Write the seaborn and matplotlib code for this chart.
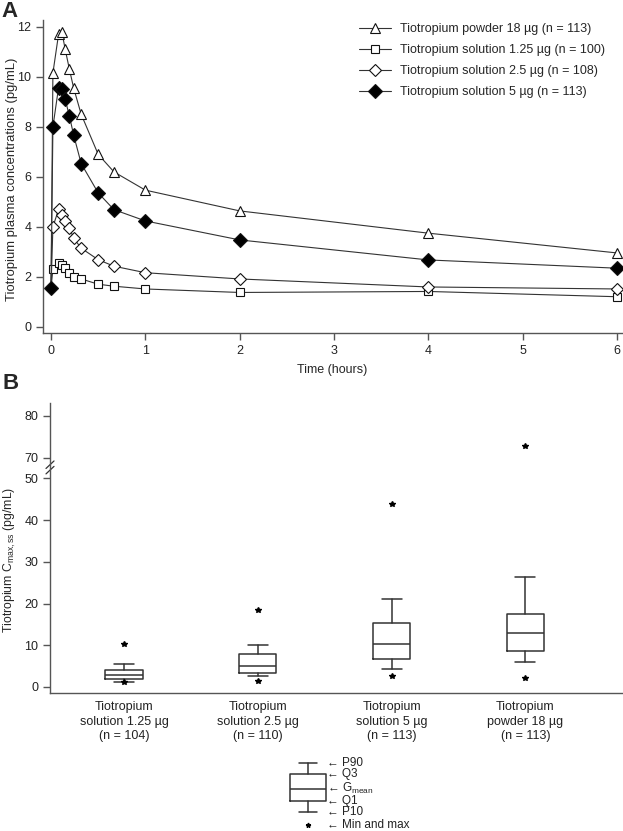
import numpy as np
import pandas as pd
import matplotlib
matplotlib.use('Agg')
import matplotlib.pyplot as plt
import matplotlib.transforms as mtransforms
import seaborn as sns

# Panel A: mean plasma concentration over time (hours)
time_h = [0, 0.02, 0.08, 0.115, 0.15, 0.195, 0.24, 0.32, 0.5, 0.667, 1, 2, 4, 6]
powder_18 = [1.55, 10.15, 11.7, 11.8, 11.1, 10.3, 9.55, 8.5, 6.9, 6.2, 5.47, 4.64, 3.75, 2.96]
sol_125 = [1.55, 2.32, 2.55, 2.48, 2.34, 2.14, 2.0, 1.92, 1.71, 1.63, 1.52, 1.38, 1.42, 1.21]
sol_25 = [1.55, 4.0, 4.7, 4.49, 4.23, 3.97, 3.55, 3.15, 2.69, 2.43, 2.17, 1.92, 1.6, 1.52]
sol_5 = [1.55, 8.0, 9.57, 9.5, 9.1, 8.43, 7.67, 6.53, 5.36, 4.69, 4.24, 3.48, 2.68, 2.35]

series_labels = ['Tiotropium powder 18 µg (n = 113)',
                 'Tiotropium solution 1.25 µg (n = 100)',
                 'Tiotropium solution 2.5 µg (n = 108)',
                 'Tiotropium solution 5 µg (n = 113)']

# Panel B: Cmax,ss summary per group
box_groups = ['Tiotropium\nsolution 1.25 µg\n(n = 104)',
              'Tiotropium\nsolution 2.5 µg\n(n = 110)',
              'Tiotropium\nsolution 5 µg\n(n = 113)',
              'Tiotropium\npowder 18 µg\n(n = 113)']
p10 = [1.3, 2.6, 4.3, 5.9]
q1 = [1.8, 3.4, 6.6, 8.7]
gmean = [2.8, 5.0, 10.4, 13.0]
q3 = [4.1, 7.8, 15.4, 17.5]
p90 = [5.5, 10.0, 21.1, 26.3]
c_min = [1.2, 1.5, 2.6, 2.2]
c_max = [10.3, 18.4, 43.8, 72.9]

y_ticks_b = [0, 10, 20, 30, 40, 50, 70, 80]

# key box (nominal values only used for the explanatory glyph)
key_stats = {'whislo': 19.3, 'q1': 30, 'med': 42.3, 'q3': 57, 'whishi': 68.3, 'star': 6}
key_labels = ['P90', 'Q3', 'G$_{mean}$', 'Q1', 'P10', 'Min and max']


def brk(v):
    # compress the 50-70 gap on the y axis of panel B
    v = np.asarray(v, dtype=float)
    return np.where(v > 50, v - 15, v)


sns.set_theme(style='ticks')
plt.rcParams['font.family'] = ['Liberation Sans', 'DejaVu Sans']
plt.rcParams['mathtext.default'] = 'regular'

W, H = 623, 831
fig = plt.figure(figsize=(W / 100, H / 100), dpi=100)
ink = '#333333'

# ---------- panel A ----------
axA = fig.add_axes([43 / W, 1 - 333 / H, 579 / W, 313 / H])
df = pd.DataFrame({
    'time': time_h * 4,
    'conc': powder_18 + sol_125 + sol_25 + sol_5,
    'group': np.repeat(series_labels, len(time_h)),
})
styles = [('^', 'white', 7.5, list(range(1, len(time_h)))),
          ('s', 'white', 6.3, list(range(1, len(time_h)))),
          ('D', 'white', 6.3, list(range(1, len(time_h)))),
          ('D', 'black', 6.8, list(range(len(time_h))))]
for label, (mk, fc, ms, every) in zip(series_labels, styles):
    sub = df[df['group'] == label]
    sns.lineplot(data=sub, x='time', y='conc', ax=axA, color=ink, lw=0.8,
                 marker=mk, ms=ms, mfc=fc, mec='#111111', mew=0.8,
                 markevery=every, label=label)

axA.set_xlim(-0.085, 6.053)
axA.set_ylim(-0.24, 12.27)
axA.set_xticks(range(0, 7))
axA.set_yticks(range(0, 13, 2))
axA.set_xlabel('Time (hours)', fontsize=9, labelpad=5)
axA.set_ylabel('Tiotropium plasma concentrations (pg/mL)', fontsize=9.4)
axA.yaxis.set_label_coords(-0.043, 0.49)
axA.legend(loc='upper left', bbox_to_anchor=(0.545, 0.99), frameon=False,
           fontsize=9, handlelength=2.6, handletextpad=0.7, labelspacing=0.72,
           borderpad=0, borderaxespad=0)
sns.despine(ax=axA)

# ---------- panel B ----------
axB = fig.add_axes([50 / W, 1 - 693 / H, 573 / W, 290 / H])
stats = []
for i, g in enumerate(box_groups):
    stats.append(dict(whislo=float(brk(p10[i])), q1=float(brk(q1[i])),
                      med=float(brk(gmean[i])), q3=float(brk(q3[i])),
                      whishi=float(brk(p90[i])),
                      fliers=brk([c_min[i], c_max[i]]), label=g))
line_kw = dict(color=ink, lw=1.1)
axB.bxp(stats, positions=range(len(stats)), widths=0.28, capwidths=0.15,
        boxprops=line_kw, whiskerprops=line_kw, capprops=line_kw,
        medianprops=line_kw,
        flierprops=dict(marker='*', ms=4, mfc='black', mec='black', ls='none'))
axB.set_xlim(-0.553, 3.73)
axB.set_ylim(-1.44, 68.1)
axB.set_yticks(brk(y_ticks_b))
axB.set_yticklabels([str(t) for t in y_ticks_b])
axB.set_xticks(range(len(box_groups)))
axB.set_xticklabels(box_groups, fontsize=9, linespacing=1.25)
axB.set_ylabel('Tiotropium C$_{max,ss}$ (pg/mL)', fontsize=8.8)
axB.yaxis.set_label_coords(-0.055, 0.46)
sns.despine(ax=axB)

# axis break marks
trans = mtransforms.blended_transform_factory(axB.transAxes, axB.transData)
for yb in (52.0, 53.3):
    axB.plot([-0.007, 0.007], [yb - 0.9, yb + 0.9], color=ink, lw=0.9,
             transform=trans, clip_on=False)

for ax in (axA, axB):
    for s in ('left', 'bottom'):
        ax.spines[s].set_color('#555555')
        ax.spines[s].set_linewidth(1.0)
    ax.tick_params(colors='#555555', labelcolor='#222222', labelsize=9,
                   width=1.0, length=5)
axB.tick_params(axis='x', length=0, pad=6)

# ---------- key ----------
axK = fig.add_axes([270 / W, 0, 170 / W, 76 / H])
axK.set_xlim(0, 170)
axK.set_ylim(0, 76)
axK.axis('off')
axK.bxp([dict(whislo=key_stats['whislo'], q1=key_stats['q1'], med=key_stats['med'],
              q3=key_stats['q3'], whishi=key_stats['whishi'],
              fliers=[key_stats['star']])],
        positions=[38], widths=36, capwidths=18,
        boxprops=line_kw, whiskerprops=line_kw, capprops=line_kw, medianprops=line_kw,
        flierprops=dict(marker='*', ms=3.5, mfc='black', mec='black', ls='none'),
        manage_ticks=False)
key_y = [key_stats['whishi'], key_stats['q3'], key_stats['med'],
         key_stats['q1'], key_stats['whislo'], key_stats['star']]
for yk, lab in zip(key_y, key_labels):
    axK.text(57, yk, '\u2190 ' + lab, fontsize=8.5, va='center', ha='left', color='#222222')

fig.text(0.003, 0.999, 'A', fontsize=16, fontweight='bold', va='top', ha='left')
fig.text(0.004, 1 - 373 / H, 'B', fontsize=16, fontweight='bold', va='top', ha='left')

fig.savefig('out.png', dpi=100)
